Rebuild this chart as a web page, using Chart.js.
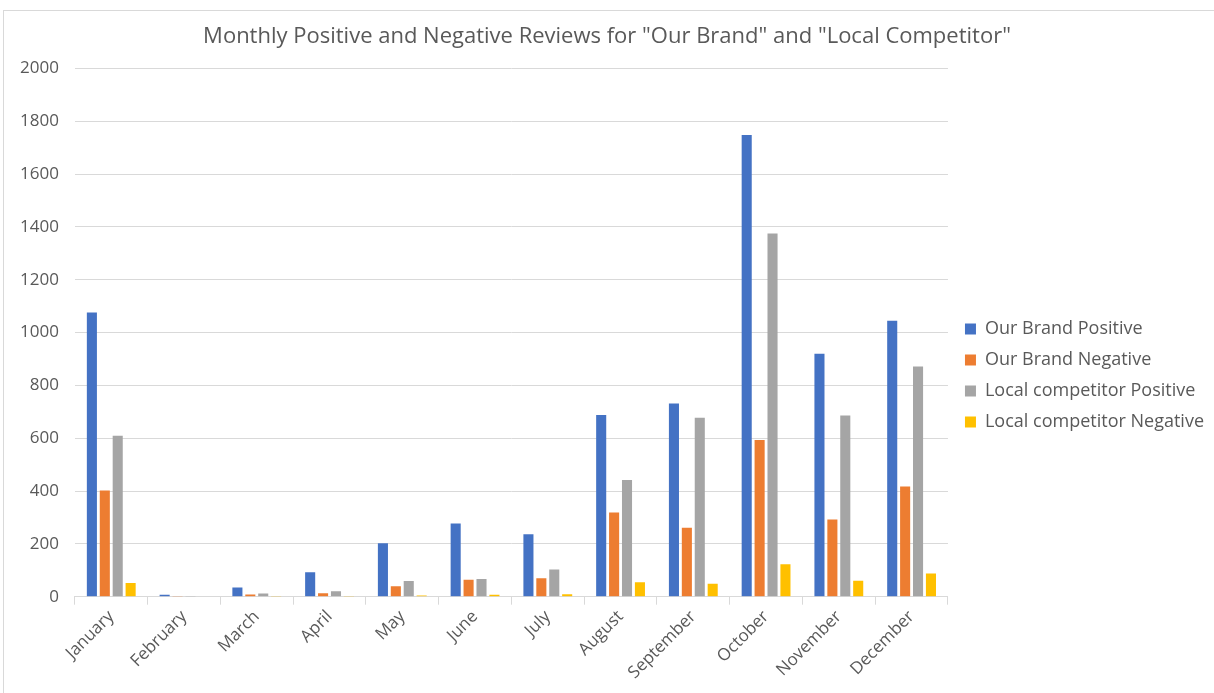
<!DOCTYPE html>
<html><head><meta charset="utf-8">
<script src="https://cdn.jsdelivr.net/npm/chart.js@4"></script>
<style>
html,body{margin:0;padding:0;background:#fff;}
#frame{position:absolute;left:3px;top:10px;width:1230px;height:700px;border-top:1px solid #d9d9d9;border-left:1px solid #d9d9d9;}
#wrap{position:absolute;left:0;top:0;width:1214px;height:693px;}
</style></head>
<body>
<div id="frame"></div>
<div id="wrap"><canvas id="c" width="1214" height="693"></canvas></div>
<script>
const months = ["January","February","March","April","May","June","July","August","September","October","November","December"];
const ourBrandPositive = [1076, 7, 35, 93, 202, 277, 236, 688, 731, 1748, 920, 1045];
const ourBrandNegative = [402, 1, 8, 13, 40, 64, 70, 319, 261, 593, 292, 417];
const localCompetitorPositive = [609, 1, 12, 21, 59, 67, 103, 442, 677, 1375, 686, 871];
const localCompetitorNegative = [52, 0, 1, 1, 5, 7, 9, 55, 49, 123, 60, 88];
const yTicks = [0,200,400,600,800,1000,1200,1400,1600,1800,2000];

const txt = '#595959';
const font = "'Open Sans', sans-serif";
const legendShift = {
  id:'legendShift',
  afterLayout(chart){
    const lg = chart.legend;
    if (lg){ lg.top += 33; lg.bottom += 33; lg.left += 4; lg.right += 4; }
  }
};
new Chart(document.getElementById('c'), {
  type: 'bar',
  data: {
    labels: months,
    datasets: [
      {label:'Our Brand Positive', data: ourBrandPositive, backgroundColor:'#4472c4'},
      {label:'Our Brand Negative', data: ourBrandNegative, backgroundColor:'#ed7d31'},
      {label:'Local competitor Positive', data: localCompetitorPositive, backgroundColor:'#a5a5a5'},
      {label:'Local competitor Negative', data: localCompetitorNegative, backgroundColor:'#ffc000'}
    ]
  },
  plugins:[legendShift],
  options: {
    responsive:false,
    animation:false,
    layout:{padding:{left:4,right:4,top:0,bottom:8}},
    datasets:{bar:{categoryPercentage:0.71,barPercentage:0.78}},
    plugins:{
      title:{display:true,text:'Monthly Positive and Negative Reviews for "Our Brand" and "Local Competitor"',
        color:txt,font:{family:font,size:22,weight:'normal'},padding:{top:24,bottom:18}},
      legend:{position:'right',align:'center',
        labels:{color:txt,font:{family:font,size:18},boxWidth:11,boxHeight:11,padding:13}},
      tooltip:{enabled:false}
    },
    scales:{
      x:{
        grid:{display:true,offset:true,drawOnChartArea:false,drawTicks:true,tickLength:8,color:'#d9d9d9'},
        border:{display:true,color:'#d9d9d9'},
        ticks:{color:txt,font:{family:font,size:17},maxRotation:45,minRotation:45,padding:2}
      },
      y:{
        min:0,max:2000,
        afterBuildTicks:(s)=>{s.ticks = yTicks.map(v=>({value:v}));},
        grid:{color:'#d9d9d9',drawTicks:false},
        border:{display:false},
        ticks:{color:txt,font:{family:font,size:17},padding:16,callback:(v)=>String(v)}
      }
    }
  }
});
</script>
</body></html>
